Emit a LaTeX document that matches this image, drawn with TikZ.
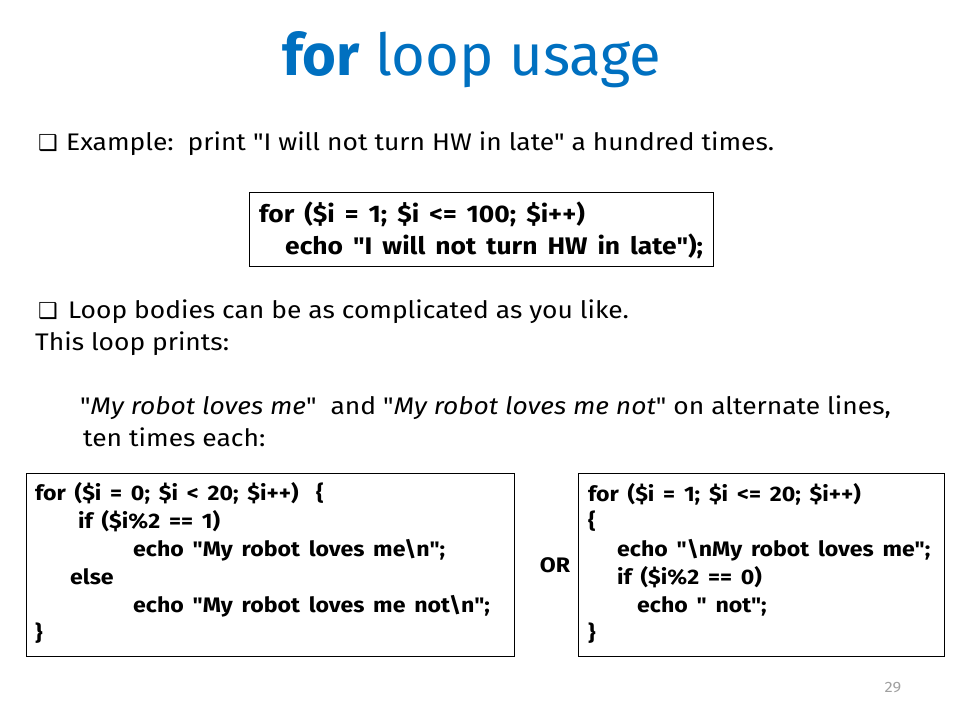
\documentclass[tikz,border=0pt]{standalone}
\usepackage{fontspec}
\setmainfont{Fira Sans}[FakeStretch=1.1, Ligatures=TeXOff]
\newfontfamily\codefont{Fira Sans}[FakeStretch=1.101, WordSpace=1.6, Ligatures=TeXOff]
\newfontfamily\titlefont{Fira Sans}
\newfontfamily\symfont{DejaVu Sans}
\usetikzlibrary{positioning}
\definecolor{titleblue}{HTML}{0070C0}
\definecolor{pagegray}{HTML}{A0A0A0}

\tikzset{
	txt/.style={anchor=base west, inner sep=0pt, font=\fontsize{24}{28}\selectfont},
	bullet/.style={anchor=base west, inner sep=0pt, font=\symfont\fontsize{22}{26}\selectfont},
	code/.style={anchor=base west, inner sep=0pt, font=\codefont\bfseries\fontsize{21}{25}\selectfont},
	bigcode/.style={code, font=\codefont\bfseries\fontsize{24}{28}\selectfont},
	codebox/.style={draw, line width=1.2pt, anchor=north west, inner sep=0pt},
}

\begin{document}
\begin{tikzpicture}[x=1pt, y=-1pt]
	\useasboundingbox (0,0) rectangle (960,720);
	
	\node[anchor=base, inner sep=0pt, text=titleblue, font=\titlefont\fontsize{58}{62}\selectfont] (title) at (472,75) {\textbf{for} loop usage};
	
	\node[bullet] (bul1) at (38,150) {❑};
	\node[txt] (example) at (66,150) {Example:\ \ print "I will not turn HW in late" a hundred times.};
	
	\node[codebox, minimum width=464pt, minimum height=74pt] (box1) at (249,192) {};
	\node[bigcode] (hw1) at (259,222) {for (\$i = 1; \$i <= 100; \$i++)};
	\node[bigcode] (hw2) at (285,254) {echo "I will not turn HW in late");};
	
	\node[bullet] (bul2) at (38,318) {❑};
	\node[txt] (bodies) at (68,318) {Loop bodies can be as complicated as you like.};
	\node[txt] (prints) at (35,350) {This loop prints:};
	\node[txt] (robot) at (80,414) {"\textit{My robot loves me}"\ \ and "\textit{My robot loves me not}" on alternate lines,};
	\node[txt] (each) at (83,446) {ten times each:};
	
	% first version
	\node[codebox, minimum width=488pt, minimum height=183pt] (box2) at (26,473) {};
	\node[code] (odd1) at (35,500) {for (\$i = 0; \$i < 20; \$i++)\ \ \{};
	\node[code] (odd2) at (78,528) {if (\$i\%2 == 1)};
	\node[code] (odd3) at (133,556) {echo "My robot loves me\textbackslash n";};
	\node[code] (odd4) at (70,584) {else};
	\node[code] (odd5) at (133,612) {echo "My robot loves me not\textbackslash n";};
	\node[code] (odd6) at (35,640) {\}};
	
	\node[code, anchor=base] (or) at (555,572) {OR};
	
	% second version
	\node[codebox, minimum width=366pt, minimum height=183pt] (box3) at (578,473) {};
	\node[code] (even1) at (588,501) {for (\$i = 1; \$i <= 20; \$i++)};
	\node[code] (even2) at (588,528) {\{};
	\node[code] (even3) at (617,556) {echo "\textbackslash nMy robot loves me";};
	\node[code] (even4) at (617,584) {if (\$i\%2 == 0)};
	\node[code] (even5) at (637,612) {echo " not";};
	\node[code] (even6) at (588,640) {\}};
	
	\node[anchor=base, inner sep=0pt, text=pagegray, font=\fontsize{15}{17}\selectfont] (page) at (893,692) {29};
	
\end{tikzpicture}
\end{document}
